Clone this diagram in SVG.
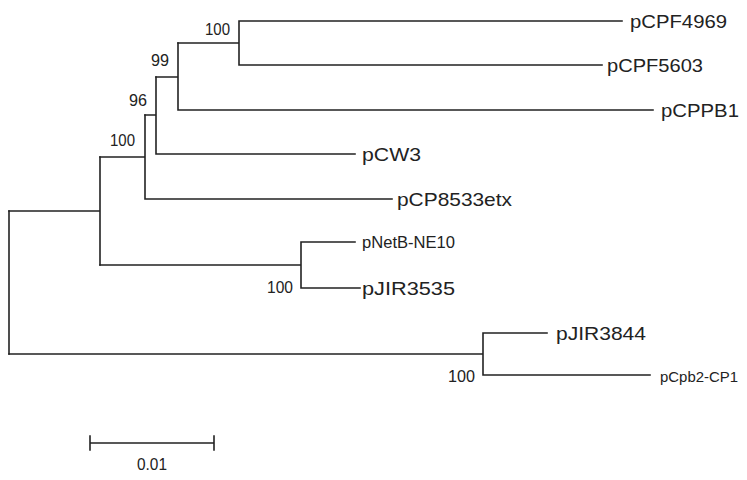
<svg xmlns="http://www.w3.org/2000/svg" width="747" height="480" viewBox="0 0 747 480">
<style>
.br{fill:none;stroke:#222;stroke-width:1.6;stroke-linecap:square}
.lb{font-family:"Liberation Sans",Arial,sans-serif;font-size:19px;fill:#222}
.sm{font-family:"Liberation Sans",Arial,sans-serif;font-size:17px;fill:#222}
.bs{font-family:"Liberation Sans",Arial,sans-serif;font-size:17px;fill:#222}
</style>
<rect width="747" height="480" fill="#fff"/>
<g id="connectors">
<path class="br" d="M9,211 V354"/>
<path class="br" d="M9,211 H100 M100,157 V265"/>
<path class="br" d="M100,157 H145 M145,115 V199 M145,199 H392"/>
<path class="br" d="M145,115 H156 M156,77 V154 M156,154 H355"/>
<path class="br" d="M156,77 H178 M178,43 V110 M178,110 H653"/>
<path class="br" d="M178,43 H239 M239,21 V65 M239,21 H622 M239,65 H602"/>
<path class="br" d="M100,265 H301 M301,242 V288 M301,242 H355 M301,288 H360"/>
<path class="br" d="M9,354 H483 M483,333 V375 M483,333 H547 M483,375 H650"/>
</g>
<g id="pCPF4969"><text class="lb" x="630" y="28" textLength="97" lengthAdjust="spacingAndGlyphs">pCPF4969</text></g>
<g id="pCPF5603"><text class="lb" x="607" y="72" textLength="96" lengthAdjust="spacingAndGlyphs">pCPF5603</text></g>
<g id="pCPPB1"><text class="lb" x="661" y="117" textLength="78" lengthAdjust="spacingAndGlyphs">pCPPB1</text></g>
<g id="pCW3"><text class="lb" x="362" y="161" textLength="59" lengthAdjust="spacingAndGlyphs">pCW3</text></g>
<g id="pCP8533etx"><text class="lb" x="397" y="206" textLength="115" lengthAdjust="spacingAndGlyphs">pCP8533etx</text></g>
<g id="pNetB-NE10"><text class="sm" x="362" y="248" textLength="93" lengthAdjust="spacingAndGlyphs">pNetB-NE10</text></g>
<g id="pJIR3535"><text class="lb" x="362" y="295" textLength="93" lengthAdjust="spacingAndGlyphs">pJIR3535</text></g>
<g id="pJIR3844"><text class="lb" x="556" y="340" textLength="90" lengthAdjust="spacingAndGlyphs">pJIR3844</text></g>
<g id="pCpb2-CP1"><text class="sm" style="font-size:15px" x="660" y="382" textLength="78" lengthAdjust="spacingAndGlyphs">pCpb2-CP1</text></g>
<g id="bootstrap">
<text class="bs" x="205" y="35" textLength="25" lengthAdjust="spacingAndGlyphs">100</text>
<text class="bs" x="151" y="66" textLength="18" lengthAdjust="spacingAndGlyphs">99</text>
<text class="bs" x="129" y="106" textLength="18" lengthAdjust="spacingAndGlyphs">96</text>
<text class="bs" x="110" y="146" textLength="25" lengthAdjust="spacingAndGlyphs">100</text>
<text class="bs" x="267" y="293" textLength="26" lengthAdjust="spacingAndGlyphs">100</text>
<text class="bs" x="448" y="382" textLength="27" lengthAdjust="spacingAndGlyphs">100</text>
</g>
<g id="scale">
<path class="br" d="M90,443 H214 M90,436 V450 M214,436 V450"/>
<text class="sm" x="137" y="470" textLength="30" lengthAdjust="spacingAndGlyphs">0.01</text>
</g>
</svg>
